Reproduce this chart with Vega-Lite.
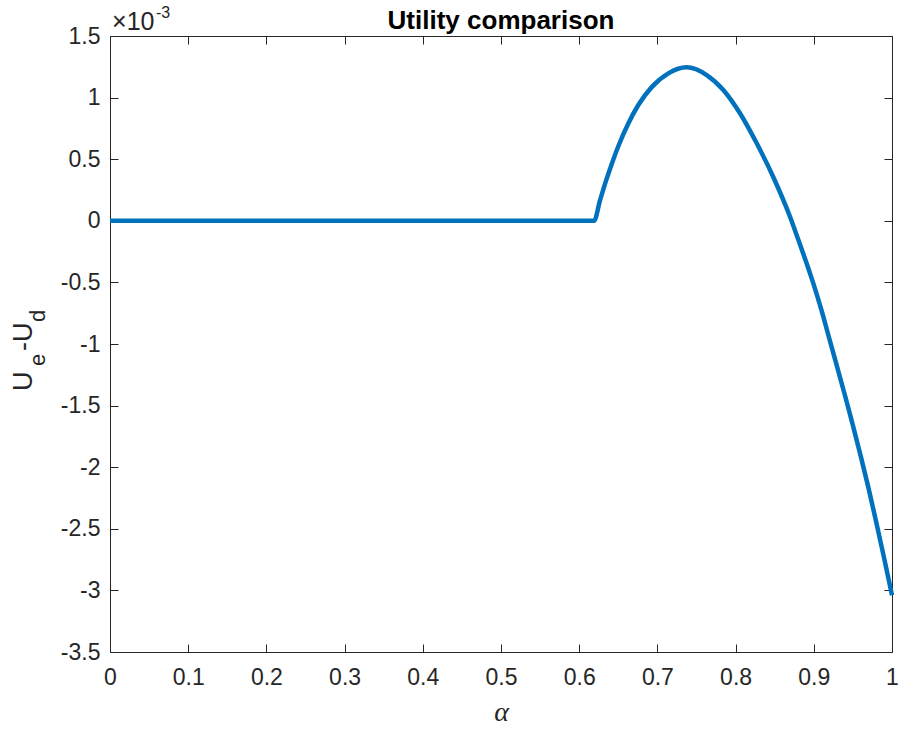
{
  "$schema": "https://vega.github.io/schema/vega-lite/v6.json",
  "width": 782,
  "height": 616,
  "autosize": "none",
  "padding": {"left": 110, "top": 36, "right": 7, "bottom": 82},
  "background": "white",
  "config": {
    "view": {"stroke": null},
    "axis": {
      "domainColor": "#262626",
      "tickColor": "#262626",
      "labelColor": "#262626",
      "labelFont": "Liberation Sans",
      "labelFontSize": 23,
      "tickSize": -8,
      "tickWidth": 1,
      "domainWidth": 1,
      "grid": false,
      "labelFlush": false,
      "labelOverlap": false
    }
  },
  "title": {
    "text": "Utility comparison",
    "font": "Liberation Sans",
    "fontSize": 26,
    "fontWeight": "bold",
    "color": "#000000",
    "anchor": "middle",
    "baseline": "alphabetic",
    "offset": -50
  },
  "resolve": {"axis": {"x": "independent", "y": "independent"}},
  "layer": [
    {
      "data": {
        "values": [
          {"alpha": 0, "diff": 0},
          {"alpha": 0.619, "diff": 0},
          {"alpha": 0.6266, "diff": 0.165},
          {"alpha": 0.633, "diff": 0.3},
          {"alpha": 0.6415, "diff": 0.46},
          {"alpha": 0.65, "diff": 0.605},
          {"alpha": 0.6628, "diff": 0.79},
          {"alpha": 0.6756, "diff": 0.94},
          {"alpha": 0.6927, "diff": 1.085},
          {"alpha": 0.714, "diff": 1.197},
          {"alpha": 0.7375, "diff": 1.246},
          {"alpha": 0.763, "diff": 1.183},
          {"alpha": 0.7843, "diff": 1.062},
          {"alpha": 0.8056, "diff": 0.873},
          {"alpha": 0.827, "diff": 0.629},
          {"alpha": 0.848, "diff": 0.358},
          {"alpha": 0.8696, "diff": 0.033},
          {"alpha": 0.88, "diff": -0.15},
          {"alpha": 0.89, "diff": -0.33},
          {"alpha": 0.9, "diff": -0.52},
          {"alpha": 0.91, "diff": -0.73},
          {"alpha": 0.92, "diff": -0.96},
          {"alpha": 0.93, "diff": -1.19},
          {"alpha": 0.94, "diff": -1.42},
          {"alpha": 0.95, "diff": -1.66},
          {"alpha": 0.96, "diff": -1.91},
          {"alpha": 0.97, "diff": -2.17},
          {"alpha": 0.98, "diff": -2.45},
          {"alpha": 0.99, "diff": -2.74},
          {"alpha": 1.0, "diff": -3.04}
        ]
      },
      "layer": [
        {
          "mark": {"type": "line", "color": "#0072BD", "strokeWidth": 4.5, "interpolate": "monotone"},
          "encoding": {
            "x": {
              "field": "alpha", "type": "quantitative",
              "scale": {"domain": [0, 1], "nice": false, "zero": false},
              "axis": {
                "orient": "bottom",
                "values": [0, 0.1, 0.2, 0.3, 0.4, 0.5, 0.6, 0.7, 0.8, 0.9, 1],
                "labelExpr": "'' + datum.value",
                "labelPadding": 22,
                "title": "α",
                "titleFont": "Liberation Serif",
                "titleFontStyle": "italic",
                "titleFontWeight": "normal",
                "titleFontSize": 28,
                "titleColor": "#262626",
                "titlePadding": 9
              }
            },
            "y": {
              "field": "diff", "type": "quantitative",
              "scale": {"domain": [-3.5, 1.5], "nice": false, "zero": false},
              "axis": {
                "orient": "left",
                "values": [-3.5, -3, -2.5, -2, -1.5, -1, -0.5, 0, 0.5, 1, 1.5],
                "labelExpr": "'' + datum.value",
                "labelPadding": 18,
                "title": null
              }
            }
          }
        },
        {
          "mark": {"type": "line", "opacity": 0},
          "encoding": {
            "x": {
              "field": "alpha", "type": "quantitative",
              "scale": {"domain": [0, 1], "nice": false, "zero": false},
              "axis": {
                "orient": "top",
                "values": [0, 0.1, 0.2, 0.3, 0.4, 0.5, 0.6, 0.7, 0.8, 0.9, 1],
                "labels": false,
                "title": null
              }
            },
            "y": {
              "field": "diff", "type": "quantitative",
              "scale": {"domain": [-3.5, 1.5], "nice": false, "zero": false},
              "axis": {
                "orient": "right",
                "values": [-3.5, -3, -2.5, -2, -1.5, -1, -0.5, 0, 0.5, 1, 1.5],
                "labels": false,
                "title": null
              }
            }
          }
        }
      ]
    },
    {
      "data": {"values": [{"part": "U"}]},
      "mark": {"type": "text", "font": "Liberation Sans", "fontSize": 27, "color": "#262626", "angle": 270, "align": "left", "baseline": "alphabetic"},
      "encoding": {
        "x": {"datum": -0.0997, "type": "quantitative", "scale": {"domain": [0, 1], "nice": false, "zero": false}, "axis": null},
        "y": {"datum": -1.3815, "type": "quantitative", "scale": {"domain": [-3.5, 1.5], "nice": false, "zero": false}, "axis": null},
        "text": {"field": "part"}
      }
    },
    {
      "data": {"values": [{"part": "e"}]},
      "mark": {"type": "text", "font": "Liberation Sans", "fontSize": 22, "color": "#262626", "angle": 270, "align": "left", "baseline": "alphabetic"},
      "encoding": {
        "x": {"datum": -0.0825, "type": "quantitative", "scale": {"domain": [0, 1], "nice": false, "zero": false}, "axis": null},
        "y": {"datum": -1.1786, "type": "quantitative", "scale": {"domain": [-3.5, 1.5], "nice": false, "zero": false}, "axis": null},
        "text": {"field": "part"}
      }
    },
    {
      "data": {"values": [{"part": "-U"}]},
      "mark": {"type": "text", "font": "Liberation Sans", "fontSize": 27, "color": "#262626", "angle": 270, "align": "left", "baseline": "alphabetic"},
      "encoding": {
        "x": {"datum": -0.0997, "type": "quantitative", "scale": {"domain": [0, 1], "nice": false, "zero": false}, "axis": null},
        "y": {"datum": -1.0568, "type": "quantitative", "scale": {"domain": [-3.5, 1.5], "nice": false, "zero": false}, "axis": null},
        "text": {"field": "part"}
      }
    },
    {
      "data": {"values": [{"part": "d"}]},
      "mark": {"type": "text", "font": "Liberation Sans", "fontSize": 22, "color": "#262626", "angle": 270, "align": "left", "baseline": "alphabetic"},
      "encoding": {
        "x": {"datum": -0.0825, "type": "quantitative", "scale": {"domain": [0, 1], "nice": false, "zero": false}, "axis": null},
        "y": {"datum": -0.8207, "type": "quantitative", "scale": {"domain": [-3.5, 1.5], "nice": false, "zero": false}, "axis": null},
        "text": {"field": "part"}
      }
    },
    {
      "data": {"values": [{"part": "×10"}]},
      "mark": {"type": "text", "font": "Liberation Sans", "fontSize": 25, "color": "#262626", "align": "left", "baseline": "alphabetic"},
      "encoding": {
        "x": {"datum": 0.0026, "type": "quantitative", "scale": {"domain": [0, 1], "nice": false, "zero": false}, "axis": null},
        "y": {"datum": 1.549, "type": "quantitative", "scale": {"domain": [-3.5, 1.5], "nice": false, "zero": false}, "axis": null},
        "text": {"field": "part"}
      }
    },
    {
      "data": {"values": [{"part": "-3"}]},
      "mark": {"type": "text", "font": "Liberation Sans", "fontSize": 16, "color": "#262626", "align": "left", "baseline": "alphabetic"},
      "encoding": {
        "x": {"datum": 0.0588, "type": "quantitative", "scale": {"domain": [0, 1], "nice": false, "zero": false}, "axis": null},
        "y": {"datum": 1.646, "type": "quantitative", "scale": {"domain": [-3.5, 1.5], "nice": false, "zero": false}, "axis": null},
        "text": {"field": "part"}
      }
    }
  ]
}
